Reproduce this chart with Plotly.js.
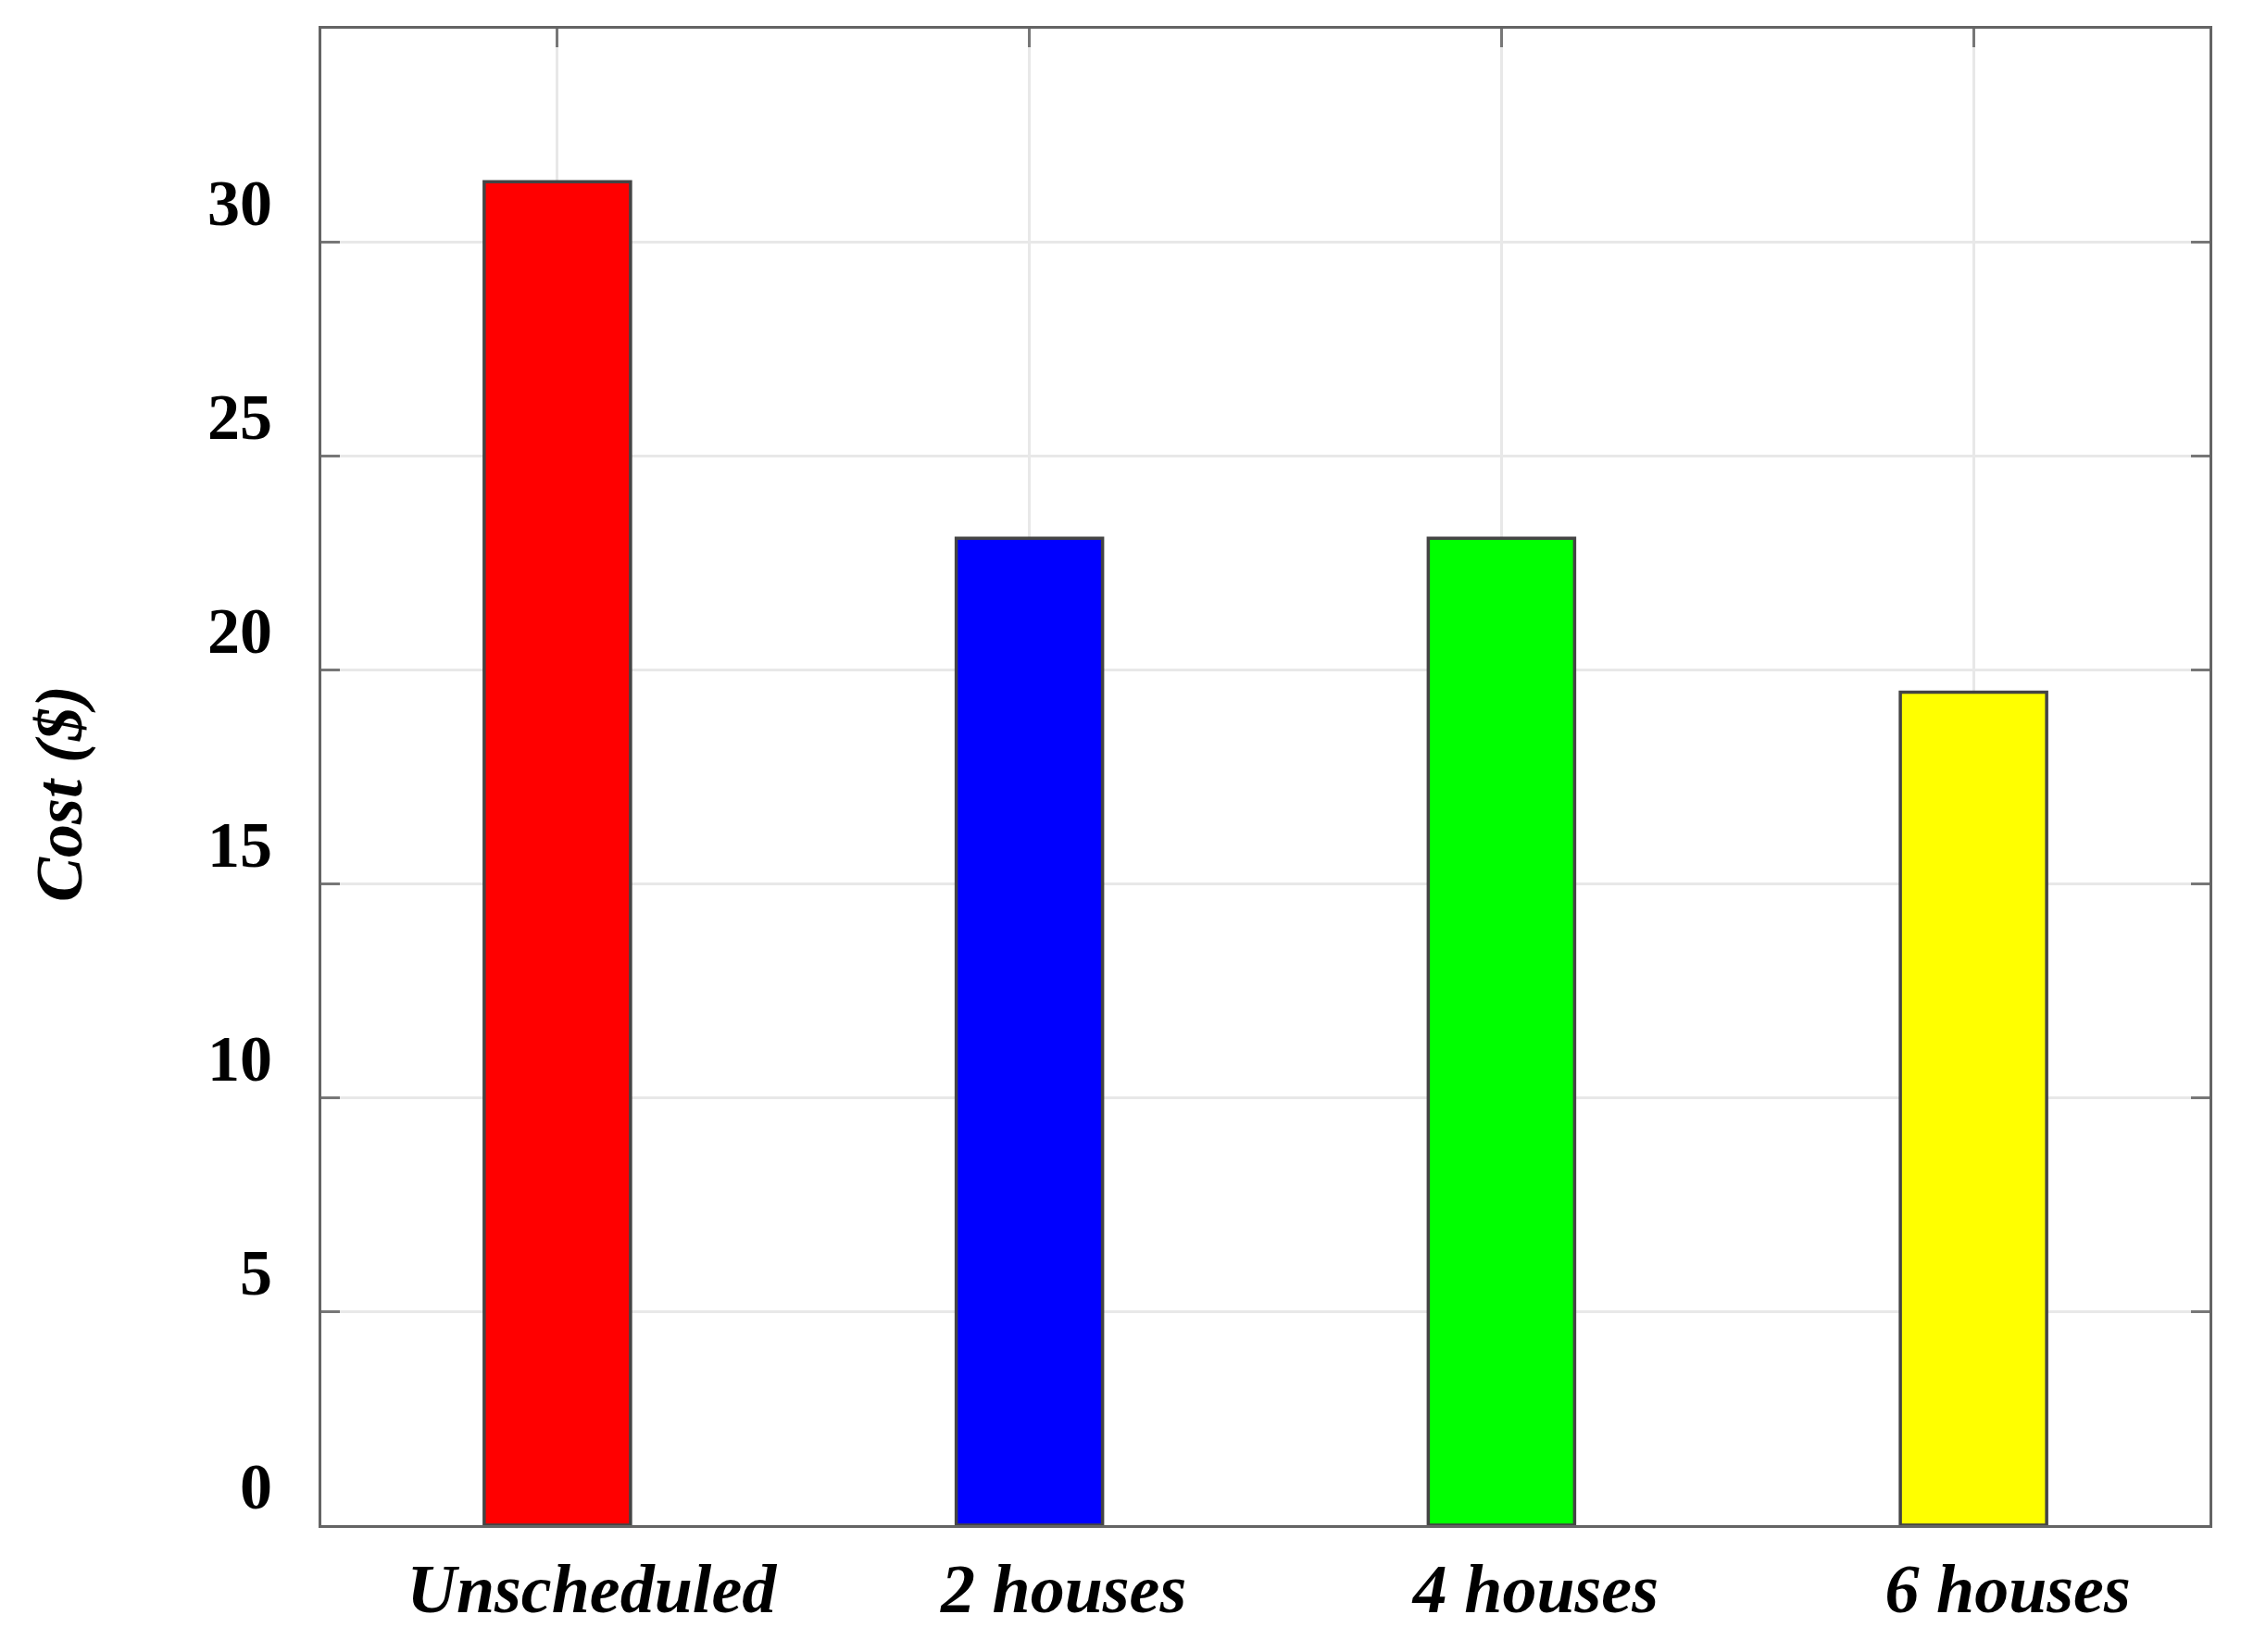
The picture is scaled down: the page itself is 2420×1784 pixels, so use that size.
<!DOCTYPE html>
<html>
<head>
<meta charset="utf-8">
<script src="https://cdn.plot.ly/plotly-3.0.1.min.js"></script>
<style>html,body{margin:0;padding:0;background:#fff;}</style>
</head>
<body>
<div id="chart" style="width:2420px;height:1784px;"></div>
<script>
const categories = ["Unscheduled", "2 houses", "4 houses", "6 houses"];
const costValues = [31.42, 23.08, 23.08, 19.48];
const barColors = ["#ff0000", "#0000ff", "#00ff00", "#ffff00"];
const yTickValues = [0, 5, 10, 15, 20, 25, 30];
const yTickLabels = ["0", "5", "10", "15", "20", "25", "30"];

const catIdx = categories.map((c, i) => i);

const trace = {
  type: "bar",
  x: catIdx,
  y: costValues,
  width: 0.31,
  marker: { color: barColors, line: { color: "#444444", width: 3.5 } },
  hoverinfo: "skip"
};

// invisible helper trace so the top (mirror) tick axis is drawn
const topHelper = {
  type: "scatter",
  x: catIdx,
  y: costValues,
  xaxis: "x2",
  yaxis: "y",
  mode: "markers",
  marker: { opacity: 0 },
  hoverinfo: "skip",
  showlegend: false
};

const layout = {
  width: 2420,
  height: 1784,
  margin: { l: 347, r: 34, t: 31, b: 137 },
  paper_bgcolor: "#ffffff",
  plot_bgcolor: "#ffffff",
  showlegend: false,
  font: { family: "Liberation Serif, Times New Roman, serif", color: "#000" },
  xaxis: {
    range: [-0.5, 3.5],
    tickmode: "array",
    tickvals: catIdx,
    ticktext: categories.map(c => "<b><i>" + c + "</i></b>"),
    tickfont: { size: 74, family: "Liberation Serif", color: "#000" },
    ticks: "",
    ticklabelshift: 37,
    ticklabelstandoff: 2,
    showline: true,
    linecolor: "#646464",
    linewidth: 3,
    mirror: true,
    showgrid: true,
    gridcolor: "#e8e8e8",
    gridwidth: 3,
    zeroline: false,
    fixedrange: true
  },
  xaxis2: {
    overlaying: "x",
    side: "top",
    range: [-0.5, 3.5],
    tickmode: "array",
    tickvals: catIdx,
    ticks: "inside",
    ticklen: 20,
    tickwidth: 3,
    tickcolor: "#777",
    showticklabels: false,
    showline: false,
    showgrid: false,
    zeroline: false,
    fixedrange: true
  },
  yaxis: {
    range: [0, 35],
    tickmode: "array",
    tickvals: yTickValues,
    ticktext: yTickLabels.map(t => "<b>" + t + "</b>"),
    tickfont: { size: 70, family: "Liberation Serif", color: "#000" },
    ticks: "inside",
    ticklen: 20,
    tickwidth: 3,
    tickcolor: "#777",
    ticklabelshift: -43,
    ticklabelstandoff: 36,
    showline: true,
    linecolor: "#646464",
    linewidth: 3,
    mirror: "ticks",
    showgrid: true,
    gridcolor: "#e8e8e8",
    gridwidth: 3,
    zeroline: false,
    fixedrange: true,
    title: {
      text: "<b><i>Cost ($)&#160;&#160;</i></b>",
      font: { size: 72, family: "Liberation Serif", color: "#000" },
      standoff: 112
    }
  }
};

Plotly.newPlot("chart", [trace, topHelper], layout, { staticPlot: true, displayModeBar: false });
</script>
</body>
</html>
